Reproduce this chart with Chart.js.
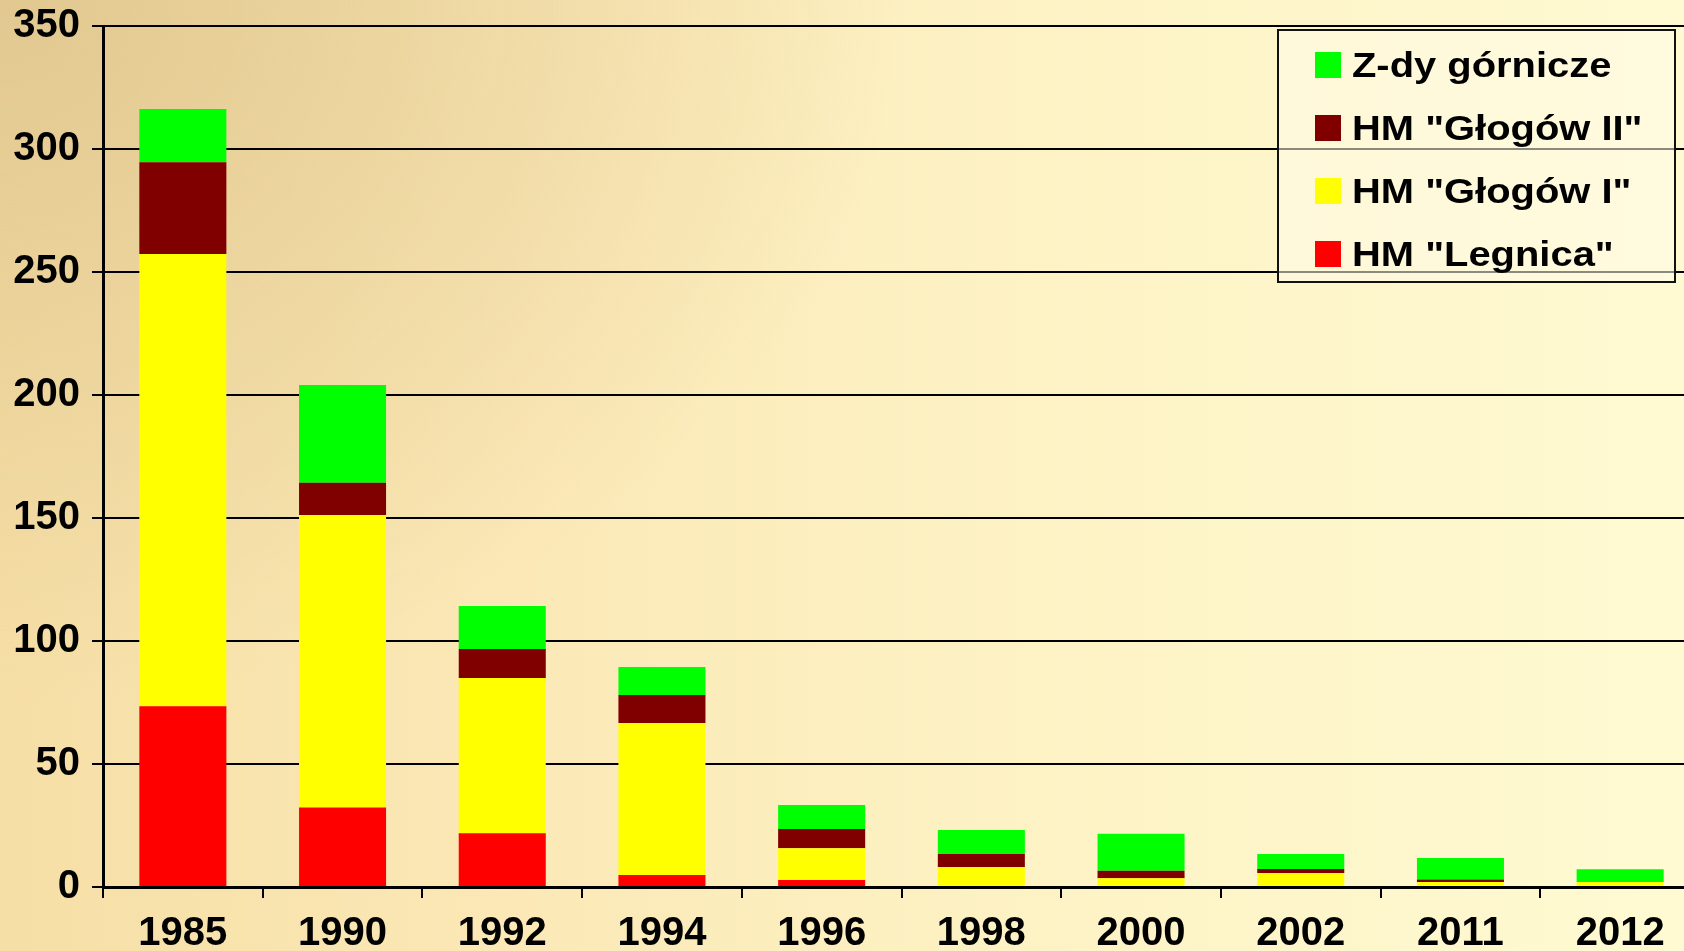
<!DOCTYPE html>
<html>
<head>
<meta charset="utf-8">
<script src="https://cdn.jsdelivr.net/npm/chart.js@4"></script>
<style>
  html, body { margin: 0; padding: 0; width: 1684px; height: 951px; overflow: hidden; }
  body {
    background:
      radial-gradient(ellipse 900px 700px at 0px 0px, rgba(222,196,140,0.85), rgba(222,196,140,0) 100%),
      linear-gradient(to right, #f6dfa6 0%, #fbe8b6 30%, #fdf2c4 60%, #fffad2 100%);
    font-family: "Liberation Sans", Arial, sans-serif;
  }
  #wrap { position: absolute; left: 0; top: 0; width: 1700px; height: 951px; }
  #legend {
    position: absolute; left: 1277px; top: 29px; width: 395px; height: 250px;
    border: 2px solid #111; background: rgba(255,251,232,0.55);
  }
  .sw { position: absolute; width: 26px; height: 26px; }
  .lt { position: absolute; font: bold 35px/35px "Liberation Sans", Arial, sans-serif; color: #000;
        white-space: nowrap; transform: scaleX(1.14); transform-origin: left center; }
</style>
</head>
<body>
<div id="wrap"><canvas id="c"></canvas></div>
<div id="legend"></div>
<script>
const categories = ['1985','1990','1992','1994','1996','1998','2000','2002','2011','2012'];
const legnica  = [73.5, 32.3, 21.8, 4.9, 2.8, 0, 0, 0, 0, 0];
const glogowI  = [183.8, 118.9, 63.2, 61.8, 13.0, 8.1, 3.6, 5.7, 2.0, 2.0];
const glogowII = [37.3, 13.1, 11.7, 11.3, 7.8, 5.3, 3.0, 1.6, 1.0, 0];
const zdy      = [21.7, 39.8, 17.5, 11.4, 9.7, 9.8, 15.0, 6.1, 8.8, 5.2];
const seriesLabels = ['HM "Legnica"', 'HM "Głogów I"', 'HM "Głogów II"', 'Z-dy górnicze'];
const seriesColors = ['#ff0000', '#ffff00', '#800000', '#00ff00'];
const yMax = 350, yStep = 50;

const seriesData = [legnica, glogowI, glogowII, zdy];
const datasets = seriesData.map((d, i) => ({
  label: seriesLabels[i],
  data: d,
  backgroundColor: seriesColors[i],
  borderWidth: 0,
  categoryPercentage: 1.0,
  barPercentage: 0.545
}));

const font = { family: '"Liberation Sans", Arial, sans-serif', size: 40, weight: 'bold' };

new Chart(document.getElementById('c'), {
  type: 'bar',
  data: { labels: categories, datasets },
  options: {
    responsive: true,
    maintainAspectRatio: false,
    animation: false,
    layout: { padding: { top: 26, left: 0, right: 0, bottom: 0 } },
    plugins: { legend: { display: false }, tooltip: { enabled: false } },
    scales: {
      x: {
        stacked: true,
        z: 1,
        border: { display: true, color: '#000', width: 3 },
        grid: { display: true, drawOnChartArea: false, drawTicks: true, tickLength: 11, color: '#000', lineWidth: 2, offset: true },
        ticks: { color: '#000', font, padding: 12, maxRotation: 0, autoSkip: false },
        afterFit: (s) => { s.height = 64; s.paddingLeft = 0; s.paddingRight = 0; }
      },
      y: {
        stacked: true,
        min: 0, max: yMax,
        border: { display: true, color: '#000', width: 3 },
        grid: { color: '#000', lineWidth: 2, tickLength: 11, drawTicks: true },
        ticks: { stepSize: yStep, color: '#000', font, padding: 12 },
        afterFit: (s) => { s.width = 103; s.paddingTop = 0; s.paddingBottom = 0; }
      }
    }
  }
});

// HTML legend (top-down order as in reference)
const legend = document.getElementById('legend');
const order = [3, 2, 1, 0];
order.forEach((si, r) => {
  const top = 21 + r * 63;
  const sw = document.createElement('div');
  sw.className = 'sw';
  sw.style.left = '36px';
  sw.style.top = top + 'px';
  sw.style.background = seriesColors[si];
  legend.appendChild(sw);
  const t = document.createElement('div');
  t.className = 'lt';
  t.style.left = '73px';
  t.style.top = (top - 5) + 'px';
  t.textContent = seriesLabels[si];
  legend.appendChild(t);
});
</script>
</body>
</html>
